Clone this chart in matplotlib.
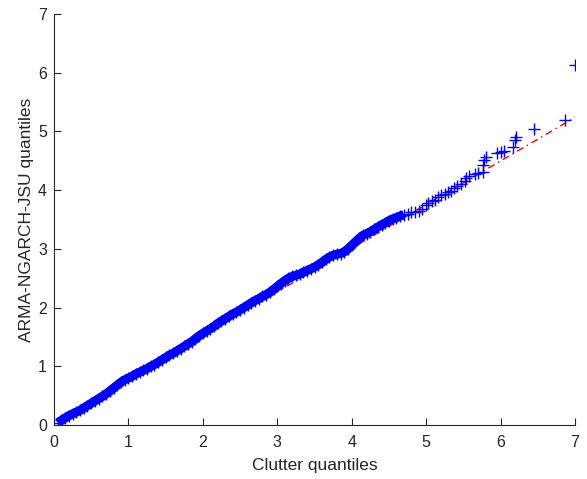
import matplotlib.pyplot as plt
import numpy as np

plt.rcParams['font.family'] = ['Liberation Sans', 'DejaVu Sans']

# quantile pairs (clutter vs model)
clutter_q = [0.05, 0.10, 0.15, 0.20, 0.25, 0.30, 0.35, 0.40, 0.45, 0.50,
             0.55, 0.60, 0.65, 0.70, 0.75, 0.80, 0.85, 0.90, 0.95, 1.00,
             1.05, 1.10, 1.15, 1.20, 1.25, 1.30, 1.35, 1.40, 1.45, 1.50,
             1.55, 1.60, 1.65, 1.70, 1.75, 1.80, 1.85, 1.90, 1.95, 2.00,
             2.05, 2.10, 2.15, 2.20, 2.25, 2.30, 2.35, 2.40, 2.45, 2.50,
             2.55, 2.60, 2.65, 2.70, 2.75, 2.80, 2.85, 2.90, 2.95, 3.00,
             3.05, 3.10, 3.15, 3.20, 3.25, 3.30, 3.35, 3.40, 3.45, 3.50,
             3.55, 3.60, 3.65, 3.70, 3.75, 3.80, 3.85, 3.90, 3.95, 4.00,
             4.05, 4.10, 4.15, 4.20, 4.25, 4.30, 4.35, 4.40,
             4.45, 4.50, 4.55, 4.60, 4.65, 4.70, 4.75, 4.80, 4.85, 4.90,
             4.95, 5.00, 5.03, 5.08, 5.12, 5.16, 5.20, 5.25, 5.30, 5.34,
             5.38, 5.42, 5.47, 5.52, 5.54, 5.58, 5.65, 5.70, 5.76, 5.77,
             5.78, 5.80, 5.95, 6.00, 6.04, 6.16, 6.19, 6.21, 6.45, 6.87, 7.00]
model_q = [0.04, 0.08, 0.12, 0.16, 0.19, 0.22, 0.25, 0.29, 0.33, 0.37,
           0.41, 0.45, 0.49, 0.53, 0.58, 0.63, 0.68, 0.73, 0.77, 0.80,
           0.83, 0.87, 0.90, 0.93, 0.96, 1.00, 1.03, 1.07, 1.11, 1.15,
           1.19, 1.22, 1.26, 1.30, 1.34, 1.38, 1.42, 1.47, 1.52, 1.56,
           1.60, 1.64, 1.68, 1.73, 1.77, 1.81, 1.85, 1.89, 1.92, 1.96,
           2.00, 2.04, 2.08, 2.12, 2.15, 2.19, 2.22, 2.26, 2.31, 2.36,
           2.41, 2.46, 2.50, 2.53, 2.55, 2.57, 2.60, 2.63, 2.66, 2.69,
           2.73, 2.77, 2.82, 2.86, 2.89, 2.91, 2.92, 2.95, 3.00, 3.06,
           3.12, 3.18, 3.23, 3.26, 3.29, 3.33, 3.37, 3.41,
           3.44, 3.48, 3.51, 3.53, 3.56, 3.58, 3.60, 3.62, 3.63, 3.65,
           3.68, 3.74, 3.78, 3.81, 3.83, 3.88, 3.91, 3.93, 3.96, 3.99,
           4.03, 4.07, 4.11, 4.15, 4.20, 4.24, 4.27, 4.29, 4.31, 4.43,
           4.51, 4.57, 4.63, 4.65, 4.67, 4.74, 4.86, 4.90, 5.04, 5.20, 6.13]

# the dense body (thousands of overlapping points in the original) ends here
body_end = 4.7

# reference line end points
line_x = [0.04, 7.0]
line_y = [0.07, 5.24]

x = np.array(clutter_q)
y = np.array(model_q)
body = x <= body_end

fig = plt.figure(figsize=(5.87, 4.79), dpi=100)
ax = fig.add_axes([0.092, 0.1127, 0.8876, 0.8581])

ax.plot(line_x, line_y, color='red', linestyle=(0, (5, 3, 1, 3)), linewidth=1)
ax.plot(x[body], y[body], '-', color='blue', linewidth=6.5, solid_capstyle='butt')
ax.plot(x, y, '+', color='blue', markersize=8, markeredgewidth=1)

ax.set_xlim(0, 7)
ax.set_ylim(0, 7)
ax.set_xticks(range(8))
ax.set_yticks(range(8))

for s in ['top', 'right']:
    ax.spines[s].set_visible(False)
for s in ['left', 'bottom']:
    ax.spines[s].set_color('#262626')
    ax.spines[s].set_linewidth(0.8)
ax.tick_params(direction='in', length=5, width=0.8, colors='#262626',
               labelsize=11.5)
ax.tick_params(axis='x', pad=7)
ax.tick_params(axis='y', pad=5)

ax.set_xlabel('Clutter quantiles', fontsize=12.5, color='#262626', labelpad=6)
ax.set_ylabel('ARMA-NGARCH-JSU quantiles', fontsize=12.5, color='#262626', labelpad=3)

fig.savefig('out.png')
